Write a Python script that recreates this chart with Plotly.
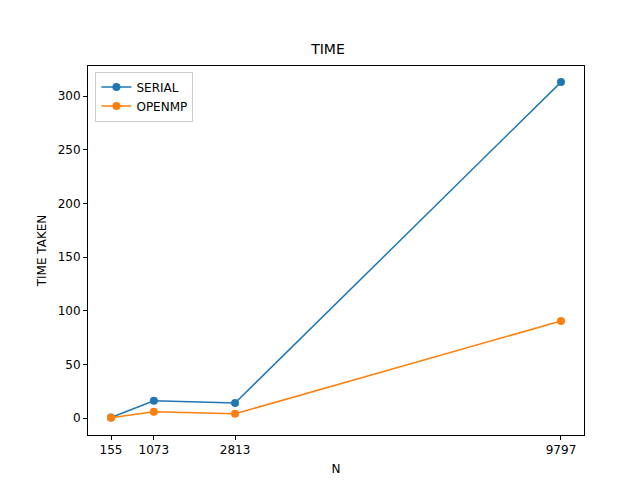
import plotly.graph_objects as go

n_values = [155, 1073, 2813, 9797]
n_labels = ["155", "1073", "2813", "9797"]
serial_time = [0.5, 16.0, 14.0, 313.0]
openmp_time = [0.3, 5.8, 4.0, 90.4]

fig = go.Figure()
fig.add_trace(go.Scatter(x=n_values, y=serial_time, mode="lines+markers", name="SERIAL",
                         line=dict(color="#1f77b4", width=1.5), marker=dict(size=8)))
fig.add_trace(go.Scatter(x=n_values, y=openmp_time, mode="lines+markers", name="OPENMP",
                         line=dict(color="#ff7f0e", width=1.5), marker=dict(size=8)))

axis_style = dict(showgrid=False, zeroline=False, showline=True, mirror=True,
                  linecolor="black", linewidth=1, ticks="outside", ticklen=4,
                  tickcolor="black", automargin=False)
fig.update_layout(
    width=640, height=480,
    paper_bgcolor="white", plot_bgcolor="white",
    font=dict(family="DejaVu Sans", size=12, color="black"),
    title=dict(text="TIME", x=0.5, xanchor="center", y=0.925, font=dict(size=14)),
    margin=dict(l=80, r=64, t=58, b=53),
    showlegend=True,
    legend=dict(x=0.015, y=0.985, xanchor="left", yanchor="top",
                bordercolor="#cccccc", borderwidth=1, bgcolor="white"),
    xaxis=dict(title=dict(text="N", standoff=8, font=dict(size=12)), tickvals=n_values,
               ticktext=n_labels, range=[-338, 10290], **axis_style),
    yaxis=dict(title=dict(text="TIME TAKEN", standoff=8, font=dict(size=12)),
               tickvals=[0, 50, 100, 150, 200, 250, 300],
               range=[-15.8, 328], **axis_style),
)

fig.write_html("out.html")
